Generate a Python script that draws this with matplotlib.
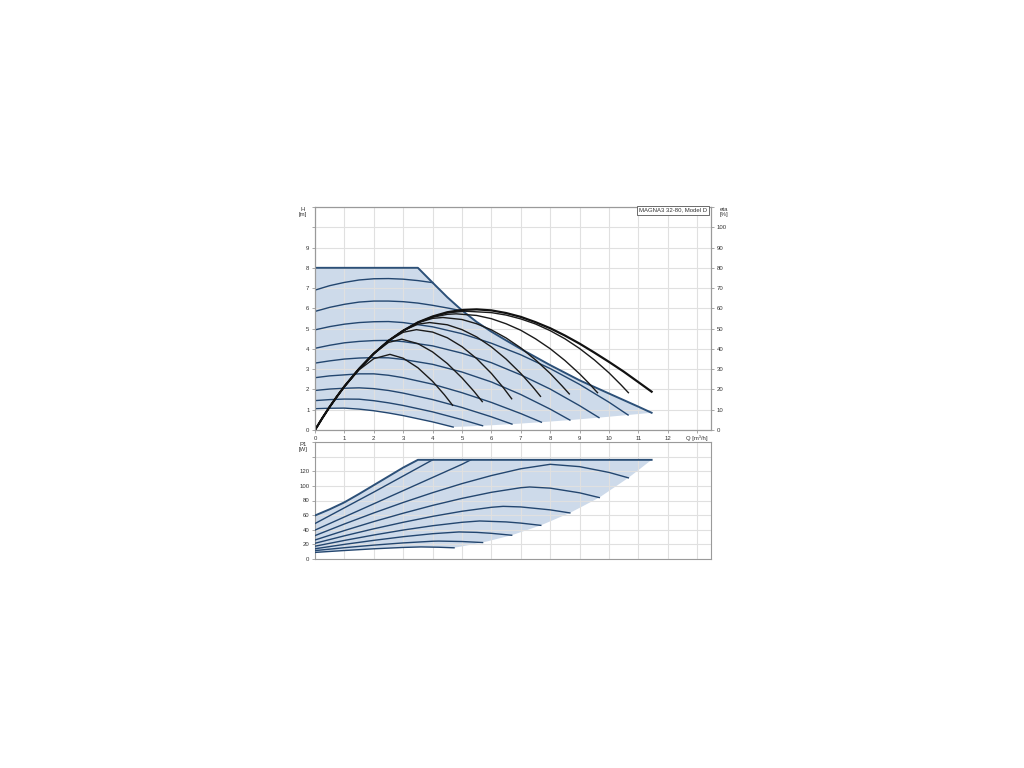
import matplotlib
matplotlib.use('Agg')
import matplotlib.pyplot as plt

plt.rcParams['font.family'] = ['Liberation Sans', 'DejaVu Sans']

# ---- upper chart: head H [m] vs flow Q [m3/h], speed curves (lowest first)
c1_q = [0, 0.5, 1, 1.5, 2, 2.5, 3, 4, 4.7]
c1_h = [1.05, 1.072, 1.08, 1.03, 0.95, 0.84, 0.71, 0.40, 0.145]
c2_q = [0, 0.5, 1, 1.5, 2, 2.5, 3, 4, 5, 5.7]
c2_h = [1.45, 1.50, 1.526, 1.52, 1.446, 1.34, 1.21, 0.895, 0.51, 0.21]
c3_q = [0, 0.5, 1, 1.5, 2, 2.5, 3, 4, 5, 6, 6.7]
c3_h = [1.95, 2.02, 2.06, 2.08, 2.04, 1.95, 1.82, 1.50, 1.11, 0.65, 0.29]
c4_q = [0, 0.5, 1, 1.5, 2, 2.5, 3, 4, 5, 6, 7, 7.7]
c4_h = [2.58, 2.67, 2.72, 2.77, 2.77, 2.70, 2.58, 2.26, 1.84, 1.36, 0.81, 0.385]
c5_q = [0, 0.5, 1, 1.5, 2, 2.5, 3, 4, 5, 6, 7, 8, 8.67]
c5_h = [3.3, 3.41, 3.50, 3.55, 3.57, 3.56, 3.48, 3.24, 2.86, 2.37, 1.75, 1.03, 0.49]
c6_q = [0, 0.5, 1, 1.5, 2, 2.5, 3, 4, 5, 6, 7, 8, 9, 9.66]
c6_h = [4.03, 4.18, 4.30, 4.37, 4.41, 4.42, 4.36, 4.15, 3.79, 3.32, 2.72, 2.02, 1.20, 0.61]
c7_q = [0, 0.5, 1, 1.5, 2, 2.5, 3, 4, 5, 6, 7, 8, 9, 10, 10.65]
c7_h = [4.94, 5.10, 5.22, 5.30, 5.34, 5.35, 5.30, 5.09, 4.75, 4.28, 3.71, 3.03, 2.25, 1.37, 0.74]
c8_q = [0, 0.5, 1, 1.5, 2, 2.5, 3, 3.5, 4, 4.5, 5.0]
c8_h = [5.85, 6.05, 6.20, 6.31, 6.36, 6.36, 6.33, 6.26, 6.15, 6.02, 5.88]
c9_q = [0, 0.5, 1, 1.5, 2, 2.5, 3, 3.5, 4.0]
c9_h = [6.9, 7.12, 7.28, 7.40, 7.46, 7.47, 7.44, 7.37, 7.27]
max_q = [0, 3.5, 4, 4.5, 5, 5.5, 6, 6.5, 7, 8, 9, 10, 11, 11.45]
max_h = [8, 8, 7.27, 6.55, 5.9, 5.33, 4.85, 4.42, 4.0, 3.2, 2.45, 1.8, 1.15, 0.85]

# ---- efficiency curves eta [%] (right axis)
e1_q = [0, 0.25, 0.5, 0.75, 1, 1.5, 2, 2.55, 3, 3.5, 4, 4.4, 4.68]
e1_v = [0, 5.9, 11.45, 16.6, 21.5, 29.7, 35.2, 37.3, 35.4, 30.7, 24.0, 17.4, 12.2]
e2_q = [0, 0.25, 0.5, 0.75, 1, 1.5, 2, 2.5, 2.95, 3.5, 4, 4.5, 5, 5.4, 5.69]
e2_v = [0, 5.9, 11.45, 16.6, 21.5, 30.2, 37.7, 43.2, 44.8, 42.6, 38.5, 32.8, 25.7, 19.2, 14.0]
e3_q = [0, 0.25, 0.5, 0.75, 1, 1.5, 2, 2.5, 3, 3.45, 4, 4.5, 5, 5.5, 6, 6.4, 6.69]
e3_v = [0, 5.9, 11.45, 16.6, 21.5, 30.2, 37.7, 43.95, 48.2, 49.5, 48.3, 45.5, 41.1, 35.2, 27.9, 21.0, 15.4]
e4_q = [0, 0.25, 0.5, 0.75, 1, 1.5, 2, 2.5, 3, 3.5, 3.9, 4.5, 5, 5.5, 6, 6.5, 7, 7.4, 7.67]
e4_v = [0, 5.9, 11.45, 16.6, 21.5, 30.2, 37.7, 44.0, 49.0, 52.2, 53.0, 51.9, 49.5, 45.9, 41.0, 35.0, 27.9, 21.4, 16.6]
e5_q = [0, 0.25, 0.5, 0.75, 1, 1.5, 2, 2.5, 3, 3.5, 4, 4.35, 5, 5.5, 6, 6.5, 7, 7.5, 8, 8.4, 8.65]
e5_v = [0, 5.9, 11.45, 16.6, 21.5, 30.2, 37.7, 44.0, 49.0, 52.9, 55.06, 55.5, 54.5, 52.4, 49.4, 45.4, 40.5, 34.6, 27.9, 21.8, 17.8]
e6_q = [0, 0.25, 0.5, 0.75, 1, 1.5, 2, 2.5, 3, 3.5, 4, 4.5, 4.8, 5.5, 6, 6.5, 7, 7.5, 8, 8.5, 9, 9.3, 9.61]
e6_v = [0, 5.9, 11.45, 16.6, 21.5, 30.2, 37.7, 44.0, 49.0, 53.0, 55.6, 57.06, 57.3, 56.5, 54.9, 52.4, 49.2, 45.0, 40.1, 34.3, 27.7, 23.3, 18.4]
e7_q = [0, 0.25, 0.5, 0.75, 1, 1.5, 2, 2.5, 3, 3.5, 4, 4.5, 5.1, 6, 6.5, 7, 7.5, 8, 8.5, 9, 9.5, 10, 10.4, 10.66]
e7_v = [0, 5.9, 11.45, 16.6, 21.5, 30.2, 37.7, 44.0, 49.0, 53.1, 55.9, 57.8, 58.6, 57.9, 56.7, 54.8, 52.3, 49.0, 45.0, 40.2, 34.6, 28.2, 22.4, 18.4]
e8_q = [0, 0.25, 0.5, 0.75, 1, 1.5, 2, 2.5, 3, 3.5, 4, 4.5, 5, 5.5, 6, 6.5, 7, 7.5, 8, 8.5, 9, 9.5, 10, 10.5, 11, 11.45]
e8_v = [0, 5.9, 11.45, 16.6, 21.5, 30.2, 37.7, 44.0, 49.0, 53.1, 56.0, 58.1, 59.2, 59.5, 59.0, 57.7, 55.8, 53.2, 50.2, 46.6, 42.6, 38.2, 33.6, 28.8, 23.6, 18.9]

# ---- lower chart: power P1 [W]
p1_q = [0, 1, 2, 3, 3.6, 4.2, 4.73]
p1_w = [9, 11.6, 13.95, 15.8, 16.5, 16.1, 15.3]
p2_q = [0, 1, 2, 3, 4, 4.2, 5, 5.7]
p2_w = [11.5, 15.45, 19.0, 22.0, 24.3, 24.5, 23.9, 22.5]
p3_q = [0, 1, 2, 3, 4, 4.9, 5.5, 6, 6.69]
p3_w = [14, 20.0, 25.5, 30.5, 34.6, 37, 36.4, 35.1, 32.5]
p4_q = [0, 1, 2, 3, 4, 5, 5.6, 6.5, 7, 7.68]
p4_w = [17.5, 25.4, 32.8, 39.6, 45.5, 50.2, 52, 50.7, 49.1, 46]
p5_q = [0, 1, 2, 3, 4, 5, 6, 6.4, 7, 8, 8.67]
p5_w = [21.5, 31.7, 41.3, 50.2, 58.3, 65.3, 70.7, 72, 71.2, 67.2, 63]
p6_q = [0, 1, 2, 3, 4, 5, 6, 7, 7.3, 8, 9, 9.67]
p6_w = [26, 38.9, 51.2, 62.6, 73.3, 82.9, 91.2, 97.5, 98.5, 96.9, 90.5, 84]
p7_q = [0, 1, 2, 3, 4, 5, 6, 7, 8, 9, 10, 10.66]
p7_w = [32, 47.9, 63.0, 77.3, 90.7, 103.1, 114.1, 123.4, 129.5, 126.3, 118.4, 111]
p8_q = [0, 1, 2, 3, 4, 5, 5.3]
p8_w = [39.5, 57.5, 75.5, 93.5, 111.5, 129.5, 135.6]
p9_q = [0, 1, 2, 3, 4.0]
p9_w = [48.5, 70, 91.5, 113.5, 135.6]
pmax_q = [0, 0.5, 1, 1.5, 2, 2.5, 3, 3.5, 11.45]
pmax_w = [59.5, 68, 77.5, 89, 101, 113, 125, 135.6, 135.6]

x_ticks = list(range(14))
x_labels = [str(i) for i in range(13)] + ['Q [m³/h]']
h_ticks = list(range(12))
h_labels = [str(i) for i in range(10)] + ['', '']
eta_ticks = list(range(0, 111, 10))
eta_labels = [str(i) for i in range(0, 101, 10)] + ['']
p_ticks = list(range(0, 161, 20))
p_labels = [str(i) for i in range(0, 121, 20)] + ['', '']

speed_q = [c1_q, c2_q, c3_q, c4_q, c5_q, c6_q, c7_q, c8_q, c9_q]
speed_h = [c1_h, c2_h, c3_h, c4_h, c5_h, c6_h, c7_h, c8_h, c9_h]
eta_q = [e1_q, e2_q, e3_q, e4_q, e5_q, e6_q, e7_q]
eta_v = [e1_v, e2_v, e3_v, e4_v, e5_v, e6_v, e7_v]
pow_q = [p1_q, p2_q, p3_q, p4_q, p5_q, p6_q, p7_q, p8_q, p9_q]
pow_w = [p1_w, p2_w, p3_w, p4_w, p5_w, p6_w, p7_w, p8_w, p9_w]

BLUE = '#23466f'
FILL = '#cddaea'
GRID = '#e0e0e0'
SPINE = '#9a9a9a'
FS = 4.3

fig = plt.figure(figsize=(10.24, 7.68), dpi=100)


def style(a):
    for s in a.spines.values():
        s.set_color(SPINE)
        s.set_linewidth(0.8)
    a.tick_params(labelsize=FS, colors=SPINE, labelcolor='#333333', length=2.5, width=0.6, pad=1.5)


# upper chart
ax = fig.add_axes([315 / 1024, 338 / 768, 396 / 1024, 223 / 768])
ax.set_xlim(0, 13.47)
ax.set_ylim(0, 11)
ax.set_xticks(x_ticks)
ax.set_xticklabels(x_labels)
ax.set_yticks(h_ticks)
ax.set_yticklabels(h_labels)
ax.grid(True, color=GRID, lw=0.8)
style(ax)

# shaded operating area: max curve, end points of speed curves, lowest curve back
ends_q = [q[-1] for q in speed_q[:7]][::-1]
ends_h = [h[-1] for h in speed_h[:7]][::-1]
poly_q = max_q + ends_q + c1_q[::-1]
poly_h = max_h + ends_h + c1_h[::-1]
ax.fill(poly_q, poly_h, color=FILL, lw=0, zorder=1)
for q, h in zip(speed_q, speed_h):
    ax.plot(q, h, color=BLUE, lw=1.0, zorder=3)
ax.plot(max_q, max_h, color='#2c5078', lw=1.4, zorder=3)

axr = ax.twinx()
axr.set_ylim(0, 110)
axr.set_yticks(eta_ticks)
axr.set_yticklabels(eta_labels)
style(axr)
for q, v in zip(eta_q, eta_v):
    axr.plot(q, v, color='#1a1a1a', lw=1.0)
axr.plot(e8_q, e8_v, color='#111111', lw=1.6)
axr.text(0.99, 0.997, 'MAGNA3 32-80, Model D', transform=axr.transAxes, ha='right', va='top',
         fontsize=FS, color='#333333',
         bbox=dict(boxstyle='square,pad=0.35', fc='white', ec='#555555', lw=0.6))

fig.text(303 / 1024, 1 - 212 / 768, 'H\n[m]', ha='center', va='center', fontsize=FS,
         color='#333333', linespacing=1.1)
fig.text(724 / 1024, 1 - 212 / 768, 'eta\n[%]', ha='center', va='center', fontsize=FS,
         color='#333333', linespacing=1.1)

# lower chart
ax2 = fig.add_axes([315 / 1024, 209 / 768, 396 / 1024, 117 / 768])
ax2.set_xlim(0, 13.47)
ax2.set_ylim(0, 160)
ax2.set_xticks(x_ticks)
ax2.set_xticklabels([])
ax2.set_yticks(p_ticks)
ax2.set_yticklabels(p_labels)
ax2.grid(True, color=GRID, lw=0.8)
style(ax2)
ax2.tick_params(axis='x', length=0)

pends_q = [q[-1] for q in pow_q[:7]][::-1]
pends_w = [w[-1] for w in pow_w[:7]][::-1]
ax2.fill(pmax_q + pends_q + p1_q[::-1], pmax_w + pends_w + p1_w[::-1], color=FILL, lw=0, zorder=1)
for q, w in zip(pow_q, pow_w):
    ax2.plot(q, w, color=BLUE, lw=1.0, zorder=3)
ax2.plot(pmax_q, pmax_w, color='#2c5078', lw=1.4, zorder=3)

fig.text(303 / 1024, 1 - 447 / 768, 'P1\n[W]', ha='center', va='center', fontsize=FS,
         color='#333333', linespacing=1.1)

fig.savefig('out.png', dpi=100, facecolor='white')
